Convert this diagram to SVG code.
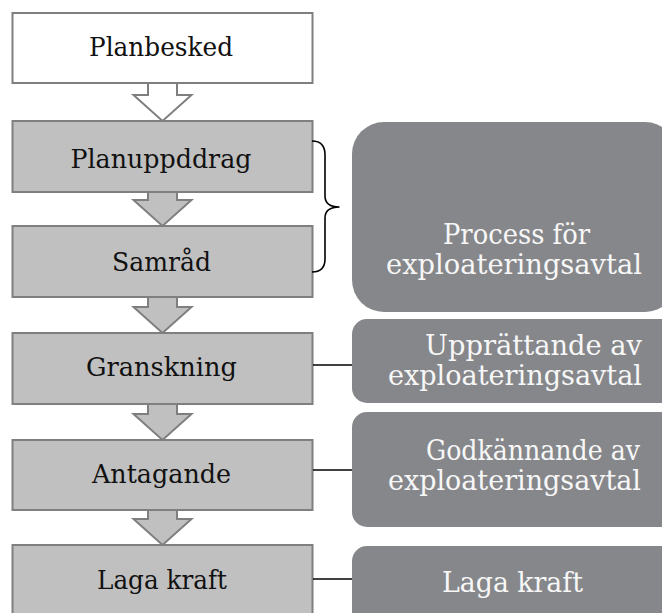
<svg xmlns="http://www.w3.org/2000/svg" width="662" height="613" viewBox="0 0 662 613">
<style>
.box{fill:#c0c0c0;stroke:#7f7f7f;stroke-width:2}
.arrow{fill:#c0c0c0;stroke:#7f7f7f;stroke-width:2;stroke-linejoin:miter}
.lt{font-family:"DejaVu Serif","Liberation Serif",serif;font-size:26.5px;fill:#111;text-anchor:middle}
.rbox{fill:#86878b}
.rt{font-family:"DejaVu Serif","Liberation Serif",serif;font-size:28px;fill:#f7f7f7;text-anchor:middle}
.conn{stroke:#000;stroke-width:1.6;fill:none}
</style>
<rect width="662" height="613" fill="#fff"/>
<g id="arrows">
<polygon class="arrow" style="fill:#fff" points="148,83 177,83 177,95 191.5,95 162.5,121 133.5,95 148,95"/>
<polygon class="arrow" points="148,192 177,192 177,200 191.5,200 162.5,226 133.5,200 148,200"/>
<polygon class="arrow" points="148,297 177,297 177,307 191.5,307 162.5,333 133.5,307 148,307"/>
<polygon class="arrow" points="148,404 177,404 177,414 191.5,414 162.5,440 133.5,414 148,414"/>
<polygon class="arrow" points="148,510 177,510 177,519 191.5,519 162.5,545 133.5,519 148,519"/>
</g>
<g id="planbesked"><rect class="box" style="fill:#fff" x="12.5" y="13" width="300" height="70"/><text class="lt" x="161" y="56" textLength="144" lengthAdjust="spacingAndGlyphs">Planbesked</text></g>
<g id="planuppddrag"><rect class="box" x="12.5" y="121" width="300" height="71"/><text class="lt" x="161" y="168" textLength="181" lengthAdjust="spacingAndGlyphs">Planuppddrag</text></g>
<g id="samrad"><rect class="box" x="12.5" y="226" width="300" height="71"/><text class="lt" x="161.5" y="271" textLength="99" lengthAdjust="spacingAndGlyphs">Samråd</text></g>
<g id="granskning"><rect class="box" x="12.5" y="333" width="300" height="71"/><text class="lt" x="161.5" y="376" textLength="151" lengthAdjust="spacingAndGlyphs">Granskning</text></g>
<g id="antagande"><rect class="box" x="12.5" y="440" width="300" height="70"/><text class="lt" x="161.5" y="482.5" textLength="139" lengthAdjust="spacingAndGlyphs">Antagande</text></g>
<g id="lagakraft"><rect class="box" x="12.5" y="545" width="300" height="72"/><text class="lt" x="162" y="589" textLength="130" lengthAdjust="spacingAndGlyphs">Laga kraft</text></g>
<g id="connectors">
<path class="conn" d="M312,141 C321,141 325,146 325,155 L325,196 C325,203 330,207 339.5,207 C330,207 325,211 325,218 L325,259 C325,267 321,272 312,272"/>
<line class="conn" x1="313" y1="365" x2="352" y2="365"/>
<line class="conn" x1="313" y1="470" x2="352" y2="470"/>
<line class="conn" x1="313" y1="579" x2="352" y2="579"/>
</g>
<g id="process"><rect class="rbox" x="352" y="122" width="325" height="190" rx="32"/>
<text class="rt" x="516.5" y="244" textLength="147" lengthAdjust="spacingAndGlyphs">Process för</text>
<text class="rt" x="514" y="274" textLength="256" lengthAdjust="spacingAndGlyphs">exploateringsavtal</text></g>
<g id="upprattande"><rect class="rbox" x="352" y="319" width="325" height="84" rx="15"/>
<text class="rt" x="533.5" y="354.5" textLength="217" lengthAdjust="spacingAndGlyphs">Upprättande av</text>
<text class="rt" x="515" y="385" textLength="254" lengthAdjust="spacingAndGlyphs">exploateringsavtal</text></g>
<g id="godkannande"><rect class="rbox" x="352" y="412" width="325" height="115" rx="15"/>
<text class="rt" x="533" y="460" textLength="214" lengthAdjust="spacingAndGlyphs">Godkännande av</text>
<text class="rt" x="514.5" y="490" textLength="253" lengthAdjust="spacingAndGlyphs">exploateringsavtal</text></g>
<g id="laga-kraft-r"><rect class="rbox" x="352" y="546" width="325" height="90" rx="15"/>
<text class="rt" x="512.5" y="592" textLength="141" lengthAdjust="spacingAndGlyphs">Laga kraft</text></g>
</svg>
